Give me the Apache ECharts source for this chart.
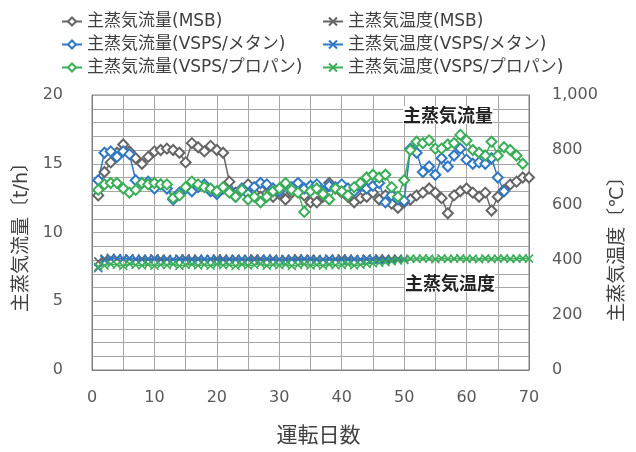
<!DOCTYPE html>
<html>
<head>
<meta charset="utf-8">
<script src="https://cdn.jsdelivr.net/npm/echarts@6/dist/echarts.min.js"></script>
<style>
  html, body { margin: 0; padding: 0; background: #fff; }
  #chart { width: 636px; height: 452px; }
</style>
</head>
<body>
<div id="chart"></div>
<script>
// 主蒸気流量 [t/h]  (1日目から)
var flowMSB = [12.7, 14.4, 15.1, 15.8, 16.4, 15.9, 15.4, 15.0, 15.5, 15.9,
  16.0, 16.1, 16.0, 15.8, 15.1, 16.5, 16.2, 15.9, 16.3, 16.0,
  15.8, 13.7, 12.9, 13.1, 13.5, 12.9, 12.6, 13.4, 12.6, 12.8,
  12.4, 12.9, 13.3, 12.7, 12.2, 12.2, 12.6, 13.6, 13.2, 12.9,
  12.6, 12.2, 12.5, 12.6, 12.9, 12.4, 12.7, 12.1, 11.8, 12.2,
  12.4, 12.7, 12.9, 13.2, 12.9, 12.5, 11.4, 12.7, 13.0, 13.2,
  12.9, 12.6, 12.9, 11.6, 12.6, 13.1, 13.5, 13.7, 14.0, 14.0]
var flowMethane = [13.8, 15.8, 15.9, 15.5, 15.9, 15.7, 13.8, 13.6, 13.7, 13.2,
  13.5, 13.2, 12.4, 12.9, 13.2, 13.0, 13.3, 13.5, 13.0, 12.8,
  13.2, 13.0, 12.6, 13.2, 12.8, 13.3, 13.6, 13.5, 13.2, 13.0,
  13.5, 13.3, 13.6, 13.2, 13.4, 13.5, 13.0, 13.4, 13.3, 13.5,
  13.2, 13.0, 13.4, 13.2, 13.4, 13.6, 12.2, 12.7, 12.4, 12.3,
  16.1, 15.8, 14.4, 14.8, 14.2, 15.4, 14.8, 15.6, 16.1, 15.3,
  15.0, 15.1, 15.0, 15.4, 14.0, 13.0]
var flowPropane = [13.1, 13.5, 13.6, 13.6, 13.2, 12.9, 13.1, 13.6, 13.5, 13.6,
  13.5, 13.5, 12.5, 12.7, 13.3, 13.7, 13.5, 13.3, 13.2, 13.0,
  13.3, 12.9, 12.6, 13.1, 12.4, 12.6, 12.2, 12.6, 13.0, 13.2,
  13.6, 13.1, 12.9, 11.5, 13.0, 13.2, 12.8, 12.4, 13.2, 13.0,
  12.7, 13.3, 13.6, 14.0, 14.2, 14.0, 14.2, 13.3, 12.6, 13.8,
  16.0, 16.6, 16.5, 16.7, 16.1, 16.1, 16.4, 16.5, 17.1, 16.7,
  16.0, 15.8, 15.6, 16.6, 15.6, 16.2, 16.0, 15.6, 15.0]

// 主蒸気温度 [℃]
var tempMSB = [395, 405, 408, 405, 404, 406, 403, 405, 404, 406,
  405, 404, 403, 405, 406, 404, 405, 403, 404, 406,
  405, 404, 405, 403, 404, 406, 405, 404, 405, 403,
  404, 405, 406, 404, 405, 404, 403, 405, 404, 406,
  405, 404, 403, 405, 404, 406, 405, 404, 405, 403]
var tempMethane = [370, 400, 405, 407, 405, 406, 404, 402, 403, 404,
  401, 403, 402, 404, 403, 401, 402, 404, 403, 402,
  401, 403, 402, 404, 403, 401, 402, 404, 403, 402,
  401, 403, 402, 404, 403, 401, 402, 404, 403, 402,
  401, 403, 402, 404, 403, 401, 400, 399, 401, 402]
var tempPropane = [375, 380, 385, 383, 378, 386, 382, 380, 384, 379,
  383, 381, 385, 378, 382, 384, 380, 383, 379, 385,
  381, 383, 378, 384, 380, 382, 386, 379, 383, 381,
  384, 378, 382, 385, 380, 383, 379, 384, 381, 382,
  385, 380, 383, 386, 388, 390, 392, 395, 398, 400,
  405, 404, 406, 405, 403, 406, 404, 405, 406, 404,
  405, 403, 406, 404, 405, 406, 404, 405, 406, 405]

var names = {
  fMSB: '主蒸気流量(MSB)',
  fMe: '主蒸気流量(VSPS/メタン)',
  fPr: '主蒸気流量(VSPS/プロパン)',
  tMSB: '主蒸気温度(MSB)',
  tMe: '主蒸気温度(VSPS/メタン)',
  tPr: '主蒸気温度(VSPS/プロパン)'
}

var GRAY = '#666666'
var BLUE = '#2f78c4'
var GREEN = '#3aae58'
// Meiryo 風: 英数字は幅広の DejaVu Sans、和文は Noto Sans CJK JP
var FONT = '"DejaVu Sans", "Noto Sans CJK JP", sans-serif'
var CROSS = 'path://M0,0L10,10M10,0L0,10'

function toPairs(arr) {
  return arr.map(function (v, i) { return [i + 1, v] })
}

function flowSeries(name, color, arr) {
  return {
    name: name,
    type: 'line',
    yAxisIndex: 0,
    symbol: 'emptyDiamond',
    symbolSize: 10,
    lineStyle: { color: color, width: 1.5 },
    itemStyle: { color: color, borderColor: color, borderWidth: 1.5 },
    data: toPairs(arr)
  }
}

function tempSeries(name, color, arr) {
  return {
    name: name,
    type: 'line',
    yAxisIndex: 1,
    symbol: CROSS,
    symbolSize: 8,
    lineStyle: { color: color, width: 1.5 },
    itemStyle: { color: color, borderColor: color, borderWidth: 1.5 },
    data: toPairs(arr)
  }
}

var legendBase = {
  orient: 'vertical',
  top: 8,
  itemGap: 6,
  itemWidth: 20,
  itemHeight: 10,
  textStyle: { fontSize: 17, color: '#404040', fontFamily: FONT }
}

var option = {
  animation: false,
  backgroundColor: '#fff',
  textStyle: { fontFamily: FONT },
  legend: [
    Object.assign({ left: 56, data: [names.fMSB, names.fMe, names.fPr] }, legendBase),
    Object.assign({ left: 317, data: [names.tMSB, names.tMe, names.tPr] }, legendBase)
  ],
  grid: {
    left: 92, right: 107, top: 95, bottom: 82,
    show: true, borderColor: '#808080', borderWidth: 1
  },
  xAxis: {
    type: 'value',
    min: 0, max: 70, interval: 10,
    name: '運転日数',
    nameLocation: 'middle',
    nameGap: 56,
    nameTextStyle: { fontSize: 21, color: '#404040', fontFamily: FONT, padding: [0, 0, 0, 16] },
    axisLine: { show: true, lineStyle: { color: '#808080' } },
    axisTick: { show: false },
    axisLabel: { fontSize: 16, color: '#595959', margin: 20, fontFamily: FONT },
    splitLine: { show: true, lineStyle: { color: '#a6a6a6' } },
    minorTick: { show: false, splitNumber: 2 },
    minorSplitLine: { show: true, lineStyle: { color: '#a6a6a6' } }
  },
  yAxis: [
    {
      type: 'value',
      min: 0, max: 20, interval: 5,
      name: '主蒸気流量〔t/h〕',
      nameLocation: 'middle',
      nameGap: 60,
      nameTextStyle: { fontSize: 19, color: '#404040', fontFamily: FONT },
      axisLine: { show: true, lineStyle: { color: '#808080' } },
      axisTick: { show: false },
      axisLabel: { fontSize: 16, color: '#595959', margin: 29, fontFamily: FONT },
      splitLine: { show: true, lineStyle: { color: '#a6a6a6' } },
      minorTick: { show: false, splitNumber: 5 },
      minorSplitLine: { show: true, lineStyle: { color: '#a6a6a6' } }
    },
    {
      type: 'value',
      min: 0, max: 1000, interval: 200,
      name: '主蒸気温度〔℃〕',
      nameLocation: 'middle',
      nameGap: 74,
      nameTextStyle: { fontSize: 19, color: '#404040', fontFamily: FONT, padding: [0, 24, 0, 0] },
      axisLine: { show: true, lineStyle: { color: '#808080' } },
      axisTick: { show: false },
      axisLabel: {
        fontSize: 16, color: '#595959', margin: 23, fontFamily: FONT,
        formatter: function (v) { return v.toLocaleString('en-US') }
      },
      splitLine: { show: false }
    }
  ],
  graphic: [
    {
      type: 'text', left: 403, top: 106, z: 100,
      style: { text: '主蒸気流量', fill: '#222', font: 'bold 18px "Noto Sans CJK JP"', backgroundColor: '#fff' }
    },
    {
      type: 'text', left: 405, top: 274, z: 100,
      style: { text: '主蒸気温度', fill: '#222', font: 'bold 18px "Noto Sans CJK JP"', backgroundColor: '#fff' }
    }
  ],
  series: [
    flowSeries(names.fMSB, GRAY, flowMSB),
    flowSeries(names.fMe, BLUE, flowMethane),
    flowSeries(names.fPr, GREEN, flowPropane),
    tempSeries(names.tMSB, GRAY, tempMSB),
    tempSeries(names.tMe, BLUE, tempMethane),
    tempSeries(names.tPr, GREEN, tempPropane)
  ]
}

var chart = echarts.init(document.getElementById('chart'))
chart.setOption(option)
</script>
</body>
</html>
